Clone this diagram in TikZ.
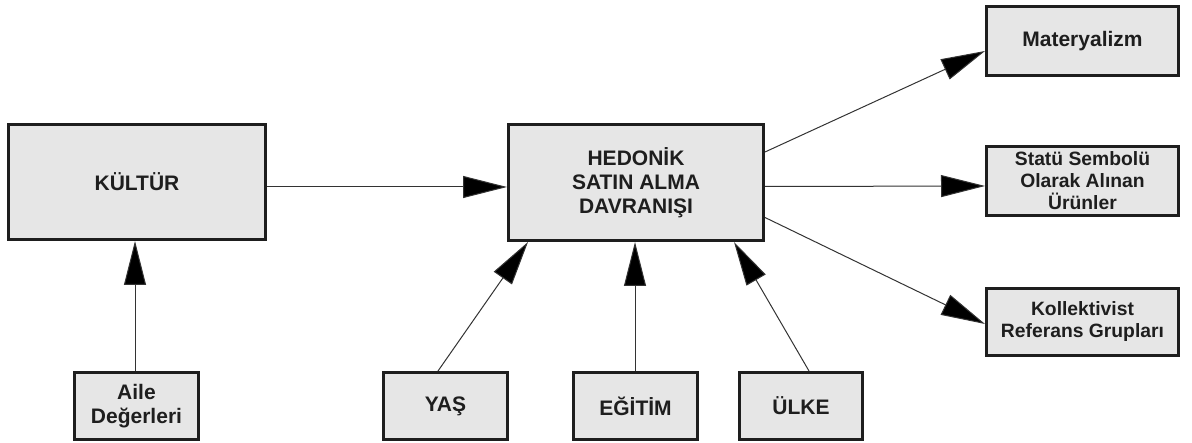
\documentclass[tikz,border=0pt]{standalone}
\usepackage{fontspec}
\setmainfont{Liberation Sans}
\usetikzlibrary{arrows.meta}
\definecolor{boxfill}{HTML}{E6E6E6}
\definecolor{boxline}{HTML}{1E1E1E}
\definecolor{linkline}{HTML}{333333}
\begin{document}
\begin{tikzpicture}[x=1pt,y=-1pt,
  box/.style={draw=boxline, line width=3pt, fill=boxfill, align=center,
    inner sep=0pt, text=boxline,
    font=\fontsize{21}{24}\selectfont\bfseries},
  smallbox/.style={box, font=\fontsize{19.3}{22}\selectfont\bfseries},
  link/.style={draw=linkline, line width=1pt,
    -{Triangle[length=44pt,width=22pt,fill=black]}}]
  \useasboundingbox (0,0) rectangle (1192,443);

  % central behaviour and its antecedents
  \node[box, minimum width=257pt, minimum height=115pt] (kultur) at (137,182) {KÜLTÜR};
  \node[box, minimum width=255pt, minimum height=116pt] (hedonik) at (636,182.5)
    {HEDONİK\\SATIN ALMA\\DAVRANIŞI};
  \node[box, minimum width=124pt, minimum height=67pt] (aile) at (136.5,406) {Aile\\Değerleri};
  \node[box, minimum width=124pt, minimum height=67pt] (yas) at (445.5,406) {YAŞ};
  \node[box, minimum width=124pt, minimum height=67pt] (egitim) at (635.5,406) {EĞİTİM};
  \node[box, minimum width=123pt, minimum height=67pt] (ulke) at (801,406) {ÜLKE};

  % outcomes
  \node[box, minimum width=192pt, minimum height=69pt] (mat) at (1082.5,41) {Materyalizm};
  \node[smallbox, minimum width=192pt, minimum height=69pt] (statu) at (1082.5,181)
    {Statü Sembolü\\Olarak Alınan\\Ürünler};
  \node[smallbox, minimum width=192pt, minimum height=67pt] (koll) at (1082.5,322)
    {Kollektivist\\Referans Grupları};

  % connectors (shifts are in page orientation: positive yshift is upwards)
  \draw[link] ([xshift=-1.5pt]aile.north) -- ([xshift=-2pt]kultur.south);
  \draw[link] ([yshift=-5pt]kultur.east) -- ([yshift=-4.5pt]hedonik.west);
  \draw[link] ([xshift=-7.5pt]yas.north) -- ([xshift=-108pt]hedonik.south);
  \draw[link] ([xshift=-0.5pt]egitim.north) -- ([xshift=-1pt]hedonik.south);
  \draw[link] ([xshift=8pt]ulke.north) -- ([xshift=98pt]hedonik.south);
  \draw[link] ([yshift=30.5pt]hedonik.east) -- ([yshift=-10pt]mat.west);
  \draw[link] ([yshift=-4pt]hedonik.east) -- ([yshift=-5pt]statu.west);
  \draw[link] ([yshift=-35pt]hedonik.east) -- ([yshift=-2pt]koll.west);
\end{tikzpicture}
\end{document}
